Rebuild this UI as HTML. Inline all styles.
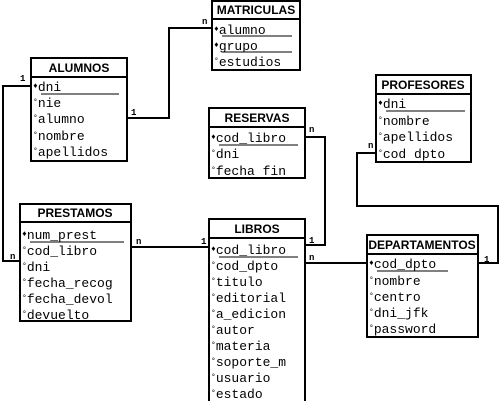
<!DOCTYPE html>
<html><head><meta charset="utf-8"><style>
html,body{margin:0;padding:0;background:#fff;}
svg{display:block;}
.t{font-family:"Liberation Sans",sans-serif;font-weight:bold;font-size:12px;}
.f{font-family:"Liberation Mono",monospace;font-size:13px;}
.m{font-size:8px;}
.c{font-family:"Liberation Mono",monospace;font-size:9px;font-weight:bold;}
.b{fill:#fff;stroke:#000;stroke-width:2;}
.l{fill:none;stroke:#000;stroke-width:2;}
</style></head><body>
<svg width="499" height="401" xmlns="http://www.w3.org/2000/svg">
<polyline class="l" points="127,118 169,118 169,28 212,28"/>
<polyline class="l" points="31,86 3,86 3,261 20,261"/>
<polyline class="l" points="131,247 209,247"/>
<polyline class="l" points="305,245 325,245 325,137 305,137"/>
<polyline class="l" points="305,263 367,263"/>
<polyline class="l" points="376,153 357,153 357,206 498,206 498,263 478,263"/>
<text class="c" x="131" y="115">1</text>
<text class="c" x="202" y="24">n</text>
<text class="c" x="20" y="81">1</text>
<text class="c" x="10" y="259">n</text>
<text class="c" x="136" y="244">n</text>
<text class="c" x="201" y="244">1</text>
<text class="c" x="309" y="243">1</text>
<text class="c" x="309" y="132">n</text>
<text class="c" x="309" y="260">n</text>
<text class="c" x="372" y="273">1</text>
<text class="c" x="368" y="148">n</text>
<text class="c" x="484" y="262">1</text>

<rect class="b" x="212" y="1" width="88" height="69"/>
<line class="l" x1="212" y1="19" x2="300" y2="19"/>
<text class="t" x="256" y="14" text-anchor="middle">MATRICULAS</text>
<text class="f" x="214" y="34"><tspan class="m" dy="-3">♦</tspan><tspan dy="3">alumno</tspan></text>
<line x1="222" y1="36" x2="292" y2="36" stroke="#000"/>
<text class="f" x="214" y="50"><tspan class="m" dy="-3">♦</tspan><tspan dy="3">grupo</tspan></text>
<line x1="222" y1="52" x2="292" y2="52" stroke="#000"/>
<text class="f" x="214" y="66"><tspan class="m" dy="-3">°</tspan><tspan dy="3">estudios</tspan></text>

<rect class="b" x="31" y="58" width="96" height="103"/>
<line class="l" x1="31" y1="77" x2="127" y2="77"/>
<text class="t" x="79" y="72" text-anchor="middle">ALUMNOS</text>
<text class="f" x="33" y="91"><tspan class="m" dy="-3">♦</tspan><tspan dy="3">dni</tspan></text>
<line x1="41" y1="94" x2="119" y2="94" stroke="#000"/>
<text class="f" x="33" y="107"><tspan class="m" dy="-3">°</tspan><tspan dy="3">nie</tspan></text>
<text class="f" x="33" y="123"><tspan class="m" dy="-3">°</tspan><tspan dy="3">alumno</tspan></text>
<text class="f" x="33" y="140"><tspan class="m" dy="-3">°</tspan><tspan dy="3">nombre</tspan></text>
<text class="f" x="33" y="156"><tspan class="m" dy="-3">°</tspan><tspan dy="3">apellidos</tspan></text>

<rect class="b" x="209" y="108" width="96" height="70"/>
<line class="l" x1="209" y1="127" x2="305" y2="127"/>
<text class="t" x="257" y="122" text-anchor="middle">RESERVAS</text>
<text class="f" x="211" y="142"><tspan class="m" dy="-3">♦</tspan><tspan dy="3">cod_libro</tspan></text>
<line x1="219" y1="145" x2="298" y2="145" stroke="#000"/>
<text class="f" x="211" y="158"><tspan class="m" dy="-3">°</tspan><tspan dy="3">dni</tspan></text>
<text class="f" x="211" y="175"><tspan class="m" dy="-3">°</tspan><tspan dy="3">fecha fin</tspan></text>

<rect class="b" x="376" y="75" width="95" height="87"/>
<line class="l" x1="376" y1="94" x2="471" y2="94"/>
<text class="t" x="423" y="89" text-anchor="middle">PROFESORES</text>
<text class="f" x="378" y="108"><tspan class="m" dy="-3">♦</tspan><tspan dy="3">dni</tspan></text>
<line x1="386" y1="111" x2="465" y2="111" stroke="#000"/>
<text class="f" x="378" y="125"><tspan class="m" dy="-3">°</tspan><tspan dy="3">nombre</tspan></text>
<text class="f" x="378" y="141"><tspan class="m" dy="-3">°</tspan><tspan dy="3">apellidos</tspan></text>
<text class="f" x="378" y="158"><tspan class="m" dy="-3">°</tspan><tspan dy="3">cod dpto</tspan></text>

<rect class="b" x="20" y="204" width="111" height="117"/>
<line class="l" x1="20" y1="222" x2="131" y2="222"/>
<text class="t" x="75" y="217" text-anchor="middle">PRESTAMOS</text>
<text class="f" x="22" y="239"><tspan class="m" dy="-3">♦</tspan><tspan dy="3">num_prest</tspan></text>
<line x1="30" y1="242" x2="124" y2="242" stroke="#000"/>
<text class="f" x="22" y="255"><tspan class="m" dy="-3">°</tspan><tspan dy="3">cod_libro</tspan></text>
<text class="f" x="22" y="271"><tspan class="m" dy="-3">°</tspan><tspan dy="3">dni</tspan></text>
<text class="f" x="22" y="287"><tspan class="m" dy="-3">°</tspan><tspan dy="3">fecha_recog</tspan></text>
<text class="f" x="22" y="303"><tspan class="m" dy="-3">°</tspan><tspan dy="3">fecha_devol</tspan></text>
<text class="f" x="22" y="319"><tspan class="m" dy="-3">°</tspan><tspan dy="3">devuelto</tspan></text>

<rect class="b" x="209" y="219" width="96" height="190"/>
<line class="l" x1="209" y1="238" x2="305" y2="238"/>
<text class="t" x="257" y="233" text-anchor="middle">LIBROS</text>
<text class="f" x="211" y="254"><tspan class="m" dy="-3">♦</tspan><tspan dy="3">cod_libro</tspan></text>
<line x1="219" y1="257" x2="298" y2="257" stroke="#000"/>
<text class="f" x="211" y="270"><tspan class="m" dy="-3">°</tspan><tspan dy="3">cod_dpto</tspan></text>
<text class="f" x="211" y="286"><tspan class="m" dy="-3">°</tspan><tspan dy="3">titulo</tspan></text>
<text class="f" x="211" y="302"><tspan class="m" dy="-3">°</tspan><tspan dy="3">editorial</tspan></text>
<text class="f" x="211" y="318"><tspan class="m" dy="-3">°</tspan><tspan dy="3">a_edicion</tspan></text>
<text class="f" x="211" y="334"><tspan class="m" dy="-3">°</tspan><tspan dy="3">autor</tspan></text>
<text class="f" x="211" y="350"><tspan class="m" dy="-3">°</tspan><tspan dy="3">materia</tspan></text>
<text class="f" x="211" y="366"><tspan class="m" dy="-3">°</tspan><tspan dy="3">soporte_m</tspan></text>
<text class="f" x="211" y="382"><tspan class="m" dy="-3">°</tspan><tspan dy="3">usuario</tspan></text>
<text class="f" x="211" y="398"><tspan class="m" dy="-3">°</tspan><tspan dy="3">estado</tspan></text>

<rect class="b" x="367" y="235" width="111" height="102"/>
<line class="l" x1="367" y1="254" x2="478" y2="254"/>
<text class="t" x="422" y="249" text-anchor="middle">DEPARTAMENTOS</text>
<text class="f" x="369" y="268"><tspan class="m" dy="-3">♦</tspan><tspan dy="3">cod_dpto</tspan></text>
<line x1="377" y1="271" x2="448" y2="271" stroke="#000"/>
<text class="f" x="369" y="285"><tspan class="m" dy="-3">°</tspan><tspan dy="3">nombre</tspan></text>
<text class="f" x="369" y="301"><tspan class="m" dy="-3">°</tspan><tspan dy="3">centro</tspan></text>
<text class="f" x="369" y="317"><tspan class="m" dy="-3">°</tspan><tspan dy="3">dni_jfk</tspan></text>
<text class="f" x="369" y="333"><tspan class="m" dy="-3">°</tspan><tspan dy="3">password</tspan></text>
</svg>
</body></html>
